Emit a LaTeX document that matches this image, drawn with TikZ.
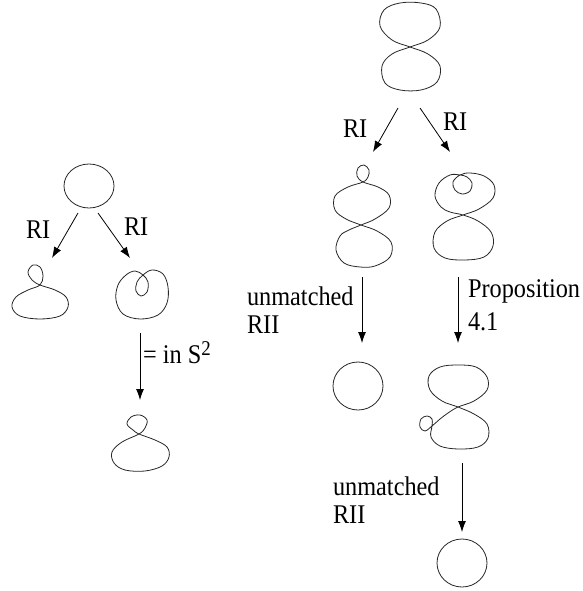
\documentclass[tikz,border=0pt]{standalone}
\usepackage{fontspec}
\setmainfont{Liberation Serif}[FakeStretch=0.9]
\usetikzlibrary{arrows.meta}
\tikzset{
  curve/.style={draw=black!85, line width=0.8pt, line join=round},
  arr/.style={draw=black, line width=0.8pt, -{Latex[length=11pt,width=8pt]}},
  lbl/.style={anchor=base west, inner sep=0pt, outer sep=0pt, font=\fontsize{27}{28}\selectfont},
}
\begin{document}
\begin{tikzpicture}[x=1pt,y=-1pt]
\useasboundingbox (0,0) rectangle (582,591);
% ---------------- left column ----------------
\draw[curve] (89,186) ellipse [x radius=25pt, y radius=22pt];
% small kink (left)
\draw[curve] plot[smooth cycle, tension=0.6] coordinates {
  (40,285) (43,276) (40,267) (33,265) (28,272) (32,280) (40,285)
  (55,290) (66,297) (68,307) (60,316) (40,319) (20,316) (12,307) (16,297) (28,290)};
% inner kink (right)
\draw[curve] plot[smooth cycle, tension=0.6] coordinates {
  (143,275) (148,282) (147,292) (141,296) (136,291) (137,282) (143,275)
  (152,270) (163,274) (168,287) (167,303) (158,315) (140,319) (123,314) (116,300) (118,285) (126,275) (135,271)};
% bottom kink
\draw[curve] plot[smooth cycle, tension=0.6] coordinates {
  (139,434) (145,428) (147,420) (140,415) (131,417) (127,424) (133,430) (139,434)
  (155,440) (167,447) (169,457) (162,466) (145,471) (125,470) (114,463) (112,452) (122,442)};
% arrows
\coordinate (a1s) at (78,213);  \coordinate (a1e) at (52,258);
\coordinate (a2s) at (98,213);  \coordinate (a2e) at (130,258);
\coordinate (a3s) at (140,333); \coordinate (a3e) at (140,400);
\draw[arr] (a1s) -- (a1e);
\draw[arr] (a2s) -- (a2e);
\draw[arr] (a3s) -- (a3e);
\node[lbl] (l1) at (26,238) {RI};
\node[lbl] (l2) at (124,235) {RI};
\node[lbl] (l3) at (143,363) {= in S\raisebox{8pt}{\fontsize{21}{21}\selectfont 2}};
% ---------------- right column ----------------
% top figure eight
\draw[curve] plot[smooth cycle, tension=0.6] coordinates {
  (410,47) (428,40) (440,27) (436,9) (421,3) (400,3) (384,10) (380,26) (392,40) (410,47)
  (428,54) (440,66) (437,82) (421,90) (400,90) (385,83) (382,66) (392,54)};
% eight with kink on top
\draw[curve] plot[smooth cycle, tension=0.6] coordinates {
  (361,225) (375,219) (389,208) (389,195) (378,187) (363,182)
  (357,176) (358,168) (364,165) (369,170) (368,177) (363,182)
  (348,187) (335,196) (335,210) (346,219) (361,225)
  (377,231) (391,242) (390,257) (375,266) (360,267) (344,263) (336,250) (340,236) (349,230)};
% eight with inner loop
\draw[curve] plot[smooth cycle, tension=0.6] coordinates {
  (463,215) (479,209) (493,198) (494,185) (484,176) (470,173) (460,175)
  (453,182) (455,190) (462,194) (470,191) (472,183) (467,177) (460,175)
  (450,175) (439,183) (435,196) (441,207) (450,212) (463,215)
  (478,221) (491,232) (493,246) (484,257) (465,260) (445,258) (434,248) (435,232) (447,221)};
% circle after unmatched RII
\draw[curve] (358,386) ellipse [x radius=25pt, y radius=24pt];
% eight with side loop
\draw[curve] plot[smooth cycle, tension=0.6] coordinates {
  (458,407) (474,401) (487,390) (487,377) (476,367) (458,365) (440,367) (429,376) (430,390) (442,401) (458,407)
  (474,414) (487,424) (488,438) (478,447) (458,449) (440,446) (431,437) (432,426)
  (432,419) (427,416) (421,419) (420,427) (425,431) (432,426)
  (440,419) (448,413)};
% bottom circle
\draw[curve] (462,563) ellipse [x radius=25pt, y radius=24pt];
% arrows
\coordinate (a4s) at (398,108); \coordinate (a4e) at (373,152);
\coordinate (a5s) at (420,108); \coordinate (a5e) at (450,152);
\coordinate (a6s) at (362,277); \coordinate (a6e) at (362,343);
\coordinate (a7s) at (458,277); \coordinate (a7e) at (458,343);
\coordinate (a8s) at (462,463); \coordinate (a8e) at (462,532);
\draw[arr] (a4s) -- (a4e);
\draw[arr] (a5s) -- (a5e);
\draw[arr] (a6s) -- (a6e);
\draw[arr] (a7s) -- (a7e);
\draw[arr] (a8s) -- (a8e);
\node[lbl] (r1) at (343,137) {RI};
\node[lbl] (r2) at (443,130) {RI};
\node[lbl] (u1a) at (247,305) {unmatched};
\node[lbl] (u1b) at (247,333) {RII};
\node[lbl] (p1a) at (468,297) {Proposition};
\node[lbl] (p1b) at (468,330) {4.1};
\node[lbl] (u2a) at (333,495) {unmatched};
\node[lbl] (u2b) at (333,523) {RII};
\end{tikzpicture}
\end{document}
